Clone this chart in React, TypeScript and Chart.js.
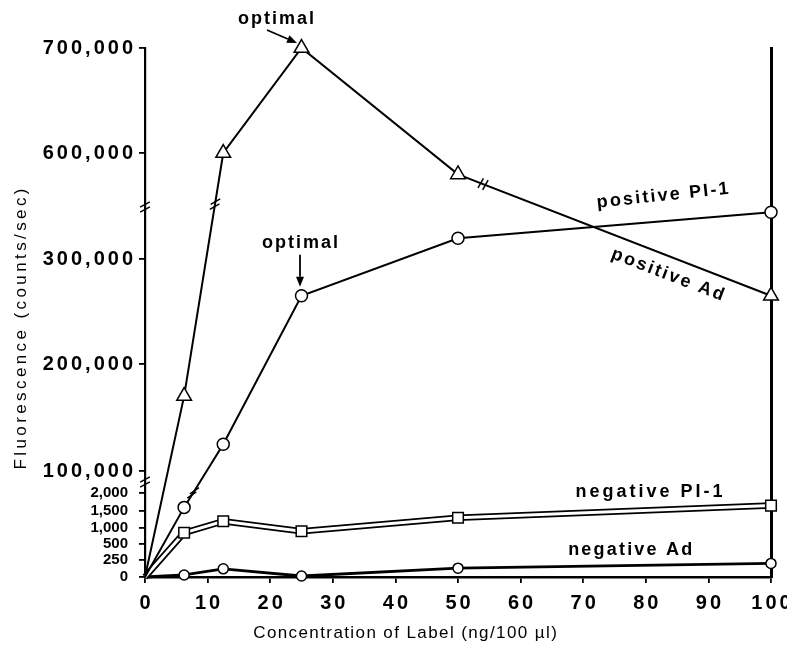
import React, { useEffect, useRef } from 'react';
import { Chart, registerables, LinearScale } from 'chart.js';

Chart.register(...registerables);

// Concentration of label (ng/100 µl)
const CONCENTRATION = [0, 6.25, 12.5, 25, 50, 100];
// Fluorescence (counts/sec) per series
const POSITIVE_AD = [0, 170000, 600000, 700000, 580000, 265000];
const POSITIVE_PI1 = [0, 1600, 125000, 265000, 320000, 345000];
const NEGATIVE_PI1 = [0, 850, 1200, 900, 1300, 1650];
const NEGATIVE_AD = [0, 30, 120, 15, 130, 200];

const X_TICKS = [0, 10, 20, 30, 40, 50, 60, 70, 80, 90, 100];
const Y_TICKS = [0, 250, 500, 1000, 1500, 2000, 100000, 200000, 300000, 600000, 700000];

// Piecewise value axis with two breaks: [value, fraction of axis height]
const Y_SEGMENTS: [number, number][] = [
  [0, 0], [250, 0.0321], [500, 0.0624], [1000, 0.0926], [1500, 0.1248], [2000, 0.1588],
  [2300, 0.1796], [90000, 0.1805], [100000, 0.2004], [200000, 0.4026], [300000, 0.6011],
  [350000, 0.6994], [550000, 0.7004], [600000, 0.8015], [700000, 1],
];
const Y_BREAKS = [2300, 350000];

const FONT = '"Liberation Sans", Arial, Helvetica, sans-serif';
const INK = '#000';

function interp(v: number, from: 0 | 1, to: 0 | 1): number {
  const k = Y_SEGMENTS;
  let i = 1;
  while (i < k.length - 1 && v > k[i][from]) i++;
  const a = k[i - 1];
  const b = k[i];
  const t = (v - a[from]) / (b[from] - a[from]);
  return a[to] + t * (b[to] - a[to]);
}

class BrokenScale extends LinearScale {
  static id = 'broken';
  buildTicks() {
    return Y_TICKS.map((value) => ({ value }));
  }
  getPixelForValue(value: number) {
    if (value === null || value === undefined || Number.isNaN(value)) return NaN;
    return this.getPixelForDecimal(interp(value, 0, 1));
  }
  getValueForPixel(pixel: number) {
    return interp(this.getDecimalForPixel(pixel), 1, 0);
  }
}
Chart.register(BrokenScale);

function drawSpaced(
  ctx: CanvasRenderingContext2D,
  text: string,
  x: number,
  y: number,
  spacing: number,
  align: 'left' | 'center' | 'right'
) {
  ctx.save();
  (ctx as any).letterSpacing = '0px';
  const w0 = ctx.measureText(text).width;
  const w = w0 + spacing * (text.length - 1);
  const left = align === 'left' ? x : align === 'center' ? x - w / 2 : x - w;
  (ctx as any).letterSpacing = spacing + 'px';
  ctx.textAlign = 'left';
  ctx.fillText(text, left, y);
  ctx.restore();
}

function drawArrow(ctx: CanvasRenderingContext2D, x1: number, y1: number, x2: number, y2: number) {
  const ang = Math.atan2(y2 - y1, x2 - x1);
  const head = 10;
  const half = 4;
  const bx = x2 - Math.cos(ang) * head;
  const by = y2 - Math.sin(ang) * head;
  ctx.save();
  ctx.strokeStyle = INK;
  ctx.fillStyle = INK;
  ctx.lineWidth = 1.8;
  ctx.beginPath();
  ctx.moveTo(x1, y1);
  ctx.lineTo(bx, by);
  ctx.stroke();
  ctx.beginPath();
  ctx.moveTo(x2, y2);
  ctx.lineTo(bx - Math.sin(ang) * half, by + Math.cos(ang) * half);
  ctx.lineTo(bx + Math.sin(ang) * half, by - Math.cos(ang) * half);
  ctx.closePath();
  ctx.fill();
  ctx.restore();
}

function drawBreak(
  ctx: CanvasRenderingContext2D,
  x: number,
  y: number,
  dirAngle: number,
  strokeAngleDeg: number
) {
  const len = 11;
  const gap = 2.5;
  const sa = (strokeAngleDeg * Math.PI) / 180;
  const dx = Math.cos(sa) * (len / 2);
  const dy = Math.sin(sa) * (len / 2);
  ctx.save();
  ctx.strokeStyle = INK;
  ctx.lineWidth = 1.5;
  for (const s of [-1, 1]) {
    const cx = x + Math.cos(dirAngle) * gap * s;
    const cy = y + Math.sin(dirAngle) * gap * s;
    ctx.beginPath();
    ctx.moveTo(cx - dx, cy - dy);
    ctx.lineTo(cx + dx, cy + dy);
    ctx.stroke();
  }
  ctx.restore();
}

// Break marks drawn across line segments: series index, segment start index, position along it
const LINE_BREAKS = [
  { series: 0, segment: 1, t: 0.79, angle: -30 },
  { series: 1, segment: 1, t: 0.23, angle: -35 },
  { series: 0, segment: 4, t: 0.08, angle: -60 },
];

const SERIES_LABELS = [
  { text: 'positive PI-1', x: 82.7, y: 560000, rot: -6, spacing: 2.2 },
  { text: 'positive Ad', x: 83.5, y: 285000, rot: 21, spacing: 2.2 },
  { text: 'negative PI-1', x: 80.5, y: 2030, rot: 0, spacing: 3 },
  { text: 'negative Ad', x: 77.5, y: 400, rot: 0, spacing: 2.2 },
];

const decorPlugin = {
  id: 'decor',
  afterDraw(chart: any) {
    const { ctx, chartArea } = chart;
    const xs = chart.scales.x;
    const ys = chart.scales.y;
    ctx.save();
    ctx.fillStyle = INK;
    ctx.textBaseline = 'middle';

    // value axis labels
    for (const v of Y_TICKS) {
      const py = ys.getPixelForValue(v);
      const big = v >= 100000;
      ctx.font = big ? `bold 20px ${FONT}` : `bold 15px ${FONT}`;
      drawSpaced(ctx, v.toLocaleString('en-US'), chartArea.left - (big ? 12 : 17), py, big ? 3 : 0, 'right');
    }
    // concentration axis labels
    ctx.font = `bold 20px ${FONT}`;
    for (const v of X_TICKS) {
      drawSpaced(ctx, String(v), xs.getPixelForValue(v), chartArea.bottom + 26, 3, 'center');
    }
    // axis titles
    ctx.font = `17px ${FONT}`;
    drawSpaced(ctx, 'Concentration of Label (ng/100 µl)', 405, chartArea.bottom + 56, 1.4, 'center');
    ctx.save();
    ctx.translate(21, 329);
    ctx.rotate(-Math.PI / 2);
    drawSpaced(ctx, 'Fluorescence (counts/sec)', 0, 0, 3.4, 'center');
    ctx.restore();

    // series labels
    ctx.font = `bold 18px ${FONT}`;
    for (const l of SERIES_LABELS) {
      ctx.save();
      ctx.translate(xs.getPixelForValue(l.x), ys.getPixelForValue(l.y));
      ctx.rotate((l.rot * Math.PI) / 180);
      drawSpaced(ctx, l.text, 0, 0, l.spacing, 'center');
      ctx.restore();
    }

    // "optimal" notes anchored at the peak points
    const ad = chart.getDatasetMeta(0).data[3];
    const pi = chart.getDatasetMeta(1).data[3];
    drawSpaced(ctx, 'optimal', ad.x - 25.5, ad.y - 29, 2, 'center');
    drawArrow(ctx, ad.x - 34.5, ad.y - 18, ad.x - 4.5, ad.y - 5);
    drawSpaced(ctx, 'optimal', pi.x - 1.5, pi.y - 53, 2, 'center');
    drawArrow(ctx, pi.x - 1.5, pi.y - 41, pi.x - 1.5, pi.y - 9);

    // axis break marks
    for (const b of Y_BREAKS) {
      drawBreak(ctx, chartArea.left, ys.getPixelForValue(b), Math.PI / 2, -28);
    }
    // line break marks
    for (const lb of LINE_BREAKS) {
      const pts = chart.getDatasetMeta(lb.series).data;
      const a = pts[lb.segment];
      const c = pts[lb.segment + 1];
      const px = a.x + (c.x - a.x) * lb.t;
      const py = a.y + (c.y - a.y) * lb.t;
      drawBreak(ctx, px, py, Math.atan2(c.y - a.y, c.x - a.x), lb.angle);
    }
    ctx.restore();
  },
};

const whiteBg = {
  id: 'whiteBg',
  beforeDraw(chart: any) {
    const { ctx, width, height } = chart;
    ctx.save();
    ctx.fillStyle = '#fff';
    ctx.fillRect(0, 0, width, height);
    ctx.restore();
  },
};

function pts(values: number[]) {
  return CONCENTRATION.map((c, i) => ({ x: c, y: values[i] }));
}

const hideOrigin = (r: number) => (ctx: any) => (ctx.dataIndex === 0 ? 0 : r);

export default function App() {
  const ref = useRef<HTMLCanvasElement>(null);
  useEffect(() => {
    if (!ref.current) return;
    const axisGrid = {
      display: true,
      drawOnChartArea: false,
      drawTicks: true,
      tickLength: 6,
      color: INK,
      lineWidth: 1.8,
    };
    const chart = new Chart(ref.current, {
      type: 'line',
      data: {
        datasets: [
          {
            label: 'positive Ad',
            data: pts(POSITIVE_AD),
            borderColor: INK,
            borderWidth: 2,
            pointStyle: 'triangle',
            pointRadius: hideOrigin(8.5),
            pointBackgroundColor: '#fff',
            pointBorderColor: INK,
            pointBorderWidth: 1.5,
            clip: false,
            order: 0,
          },
          {
            label: 'positive PI-1',
            data: pts(POSITIVE_PI1),
            borderColor: INK,
            borderWidth: 2,
            pointStyle: 'circle',
            pointRadius: hideOrigin(6),
            pointBackgroundColor: '#fff',
            pointBorderColor: INK,
            pointBorderWidth: 1.5,
            clip: false,
            order: 0,
          },
          {
            label: 'negative PI-1',
            data: pts(NEGATIVE_PI1),
            borderColor: '#fff',
            borderWidth: 3,
            pointStyle: 'rect',
            pointRadius: hideOrigin(7.5),
            pointBackgroundColor: '#fff',
            pointBorderColor: INK,
            pointBorderWidth: 1.5,
            clip: false,
            order: 0,
          },
          {
            label: 'negative PI-1 outline',
            data: pts(NEGATIVE_PI1),
            borderColor: INK,
            borderWidth: 6.5,
            pointRadius: 0,
            clip: false,
            order: 1,
          },
          {
            label: 'negative Ad',
            data: pts(NEGATIVE_AD),
            borderColor: INK,
            borderWidth: 2.8,
            pointStyle: 'circle',
            pointRadius: hideOrigin(5),
            pointBackgroundColor: '#fff',
            pointBorderColor: INK,
            pointBorderWidth: 1.5,
            clip: false,
            order: 0,
          },
        ],
      },
      options: {
        responsive: false,
        animation: false,
        devicePixelRatio: 1,
        layout: { padding: { top: 48, left: 0, right: 0, bottom: 0 } },
        plugins: { legend: { display: false }, tooltip: { enabled: false } },
        elements: { line: { tension: 0 } },
        scales: {
          x: {
            type: 'linear',
            position: 'bottom',
            min: 0,
            max: 100,
            afterBuildTicks: (s: any) => {
              s.ticks = X_TICKS.map((value) => ({ value }));
            },
            afterFit: (s: any) => {
              s.height = 69;
            },
            ticks: { display: false },
            grid: axisGrid,
            border: { display: true, color: INK, width: 2.5 },
          },
          y: {
            type: 'broken' as any,
            position: 'left',
            min: 0,
            max: 700000,
            afterFit: (s: any) => {
              s.width = 145;
            },
            ticks: { display: false },
            grid: axisGrid,
            border: { display: true, color: INK, width: 2.2 },
          },
          y2: {
            type: 'linear',
            position: 'right',
            display: true,
            afterFit: (s: any) => {
              s.width = 16;
            },
            ticks: { display: false },
            grid: { display: false },
            border: { display: true, color: INK, width: 3 },
          },
        },
      },
      plugins: [whiteBg, decorPlugin],
    } as any);
    return () => chart.destroy();
  }, []);

  return (
    <div style={{ position: 'fixed', left: 0, top: 0, width: 787, height: 646, background: '#fff' }}>
      <canvas ref={ref} width={787} height={646} style={{ display: 'block', width: 787, height: 646 }} />
    </div>
  );
}
